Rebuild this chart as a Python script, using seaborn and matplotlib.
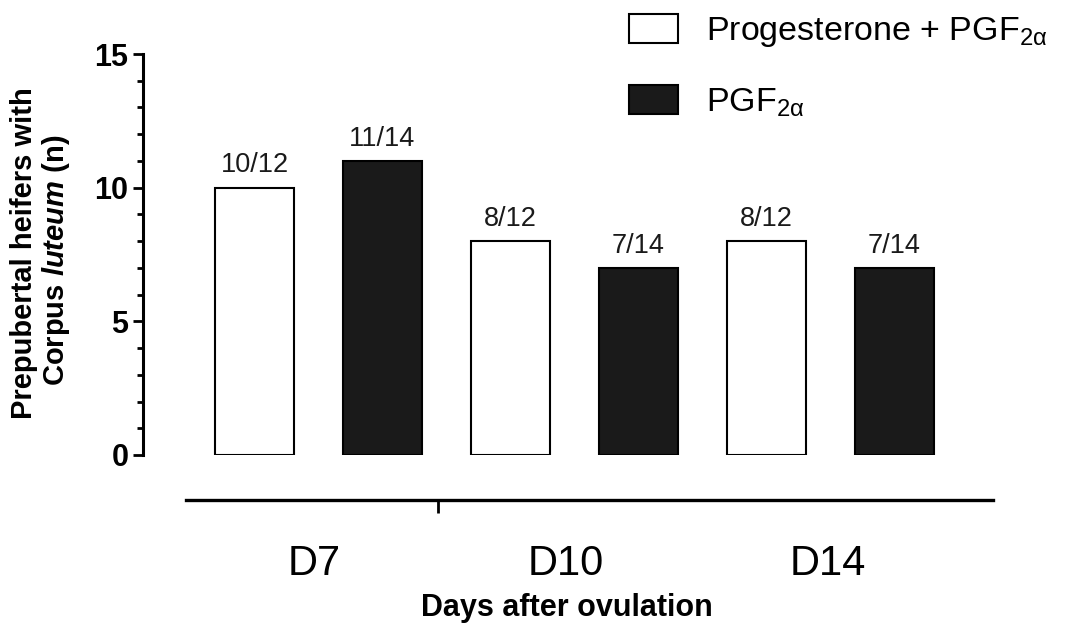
import matplotlib
matplotlib.use("Agg")
import matplotlib.pyplot as plt
import seaborn as sns
import pandas as pd
from matplotlib.patches import Patch
from matplotlib.ticker import MultipleLocator, FixedLocator

# ---- data ----
days = ["D7", "D10", "D14"]
groups = ["Progesterone + PGF$_{2\\mathrm{\\alpha}}$", "PGF$_{2\\mathrm{\\alpha}}$"]
prog_values = [10, 8, 8]
pgf_values = [11, 7, 7]
prog_fractions = ["10/12", "8/12", "8/12"]
pgf_fractions = ["11/14", "7/14", "7/14"]
yticks = [0, 5, 10, 15]

sns.set_style("ticks")
plt.rcParams["font.family"] = ["Liberation Sans", "DejaVu Sans"]
plt.rcParams["mathtext.fontset"] = "custom"
plt.rcParams["mathtext.rm"] = "Liberation Sans"
plt.rcParams["mathtext.it"] = "Liberation Sans:italic"
plt.rcParams["mathtext.bf"] = "Liberation Sans:bold"
plt.rcParams["mathtext.bfit"] = "Liberation Sans:italic:bold"
for k in ["text.color", "axes.labelcolor", "xtick.color", "ytick.color", "axes.edgecolor"]:
    plt.rcParams[k] = "black"

bars, vals, grp, fracs = [], [], [], []
for d, pv, gv, pf, gf in zip(days, prog_values, pgf_values, prog_fractions, pgf_fractions):
    bars += [f"{d}-a", f"{d}-b"]
    vals += [pv, gv]
    grp += [groups[0], groups[1]]
    fracs += [pf, gf]
df = pd.DataFrame({"bar": bars, "value": vals, "group": grp})

W, H = 1083, 628
fig = plt.figure(figsize=(W / 100, H / 100), dpi=100)
fig.patch.set_facecolor("white")

ax = fig.add_axes([143 / W, 1 - 455 / H, (993 - 143) / W, (455 - 54) / H])
ax.set_facecolor("none")
colors = ["white", "#1a1a1a"]
sns.barplot(data=df, x="bar", y="value", hue="group", order=bars, hue_order=groups,
            dodge=False, palette=colors, saturation=1, edgecolor="black",
            linewidth=1.5, width=0.62, legend=False, ax=ax)

for i, (v, t) in enumerate(zip(vals, fracs)):
    ax.annotate(t, (i, v), xytext=(0, 11), textcoords="offset points",
                ha="center", va="baseline", fontsize=19.5, color="#1a1a1a")

ax.set_xlim(-0.871, 5.77)
ax.set_ylim(0, 15)
ax.set_yticks(yticks)
ax.yaxis.set_minor_locator(MultipleLocator(1))
ax.tick_params(axis="y", which="major", length=7.5, width=2, labelsize=22, pad=3)
ax.tick_params(axis="y", which="minor", length=4.5, width=2)
for lab in ax.get_yticklabels():
    lab.set_fontweight("bold")
ax.set_xticks([])
ax.set_xlabel("")
ax.set_ylabel("")
for s in ["top", "right", "bottom"]:
    ax.spines[s].set_visible(False)
ax.spines["left"].set_linewidth(2.2)
ax.spines["left"].set_capstyle("projecting")

# separate x axis line
ax2 = fig.add_axes([186 / W, 1 - 500 / H, (993 - 186) / W, 0.001])
ax2.set_facecolor("none")
ax2.set_xlim(-0.535, 5.77)
for s in ["top", "right", "left"]:
    ax2.spines[s].set_visible(False)
ax2.spines["bottom"].set_linewidth(2.4)
ax2.set_yticks([])
ax2.set_xticks([0.47, 2.43, 4.48], labels=days)
ax2.xaxis.set_minor_locator(FixedLocator([1.434]))
ax2.tick_params(axis="x", which="major", length=0, pad=32, labelsize=30)
ax2.tick_params(axis="x", which="minor", length=9, width=2)

fig.text(567 / W, 1 - 608 / H, "Days after ovulation", ha="center", va="center",
         fontsize=22, fontweight="bold")
fig.text(24 / W, 1 - 253 / H, "Prepubertal heifers with", rotation=90,
         ha="center", va="center", fontsize=21, fontweight="bold")
fig.text(56 / W, 1 - 260 / H, r"Corpus $\mathbfit{luteum}$ (n)", rotation=90,
         ha="center", va="center", fontsize=21, fontweight="bold")

handles = [Patch(facecolor=c, edgecolor="black", linewidth=1.5) for c in colors]
fig.legend(handles, groups, loc="upper left", bbox_to_anchor=(629 / W, 1 - 14 / H),
           frameon=False, fontsize=24.5, handlelength=1.45, handleheight=0.95,
           handletextpad=0.8, labelspacing=1.05, borderpad=0, borderaxespad=0)

fig.savefig("out.png", dpi=100, facecolor="white")
